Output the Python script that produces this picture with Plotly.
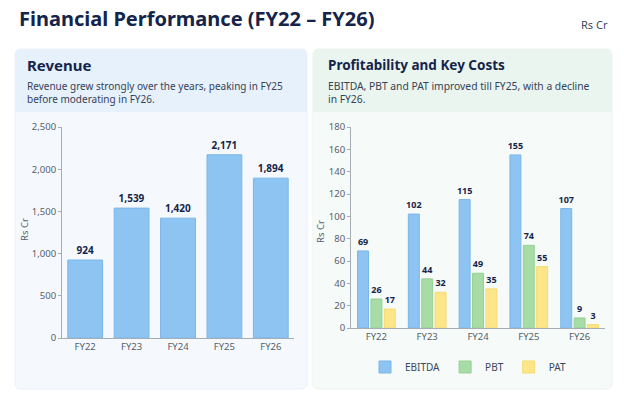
import plotly.graph_objects as go

years = ["FY22", "FY23", "FY24", "FY25", "FY26"]
revenue = [924, 1539, 1420, 2171, 1894]
ebitda = [69, 102, 115, 155, 107]
pbt = [26, 44, 49, 74, 9]
pat = [17, 32, 35, 55, 3]

W, H = 624, 416
def px(x): return x / W
def py(y): return 1 - y / H

FONT = "Noto Sans"
NAVY = "#15244a"
TICK = "#555e6b"

fig = go.Figure()

fig.add_trace(go.Bar(
    x=years, y=revenue, xaxis="x", yaxis="y", showlegend=False, width=0.75,
    marker=dict(color="#8ec4f1", line=dict(color="#7ab6ea", width=1)),
    texttemplate="%{y:,}", textposition="outside", cliponaxis=False, constraintext="none",
    textfont=dict(family=FONT, size=10, color=NAVY, weight="bold"),
    hoverinfo="skip",
))

for name, vals, col, edge in [("EBITDA", ebitda, "#8ec4f1", "#7ab6ea"),
                              ("PBT", pbt, "#a8dca6", "#96d194"),
                              ("PAT", pat, "#fde68a", "#f7da6e")]:
    fig.add_trace(go.Bar(
        x=years, y=vals, name=name, xaxis="x2", yaxis="y2",
        marker=dict(color=col, line=dict(color=edge, width=1)),
        texttemplate="%{y}", textposition="outside", cliponaxis=False, constraintext="none",
        textfont=dict(family=FONT, size=9, color=NAVY, weight="bold"),
        hoverinfo="skip",
    ))

def rrect(x0, y0, x1, y1, r, top_only=False):
    rx, ry = r / W, r / H
    X0, X1 = px(x0), px(x1)
    Y0, Y1 = py(y0), py(y1)
    if top_only:
        return (f"M {X0},{Y1} L {X0},{Y0-ry} Q {X0},{Y0} {X0+rx},{Y0} "
                f"L {X1-rx},{Y0} Q {X1},{Y0} {X1},{Y0-ry} L {X1},{Y1} Z")
    return (f"M {X0},{Y1+ry} L {X0},{Y0-ry} Q {X0},{Y0} {X0+rx},{Y0} "
            f"L {X1-rx},{Y0} Q {X1},{Y0} {X1},{Y0-ry} L {X1},{Y1+ry} "
            f"Q {X1},{Y1} {X1-rx},{Y1} L {X0+rx},{Y1} Q {X0},{Y1} {X0},{Y1+ry} Z")

shapes = [
    dict(type="path", xref="paper", yref="paper", path=rrect(15, 49, 307, 389, 6),
         fillcolor="#f5f9fd", line=dict(color="#eaf1f8", width=1), layer="below"),
    dict(type="path", xref="paper", yref="paper", path=rrect(15, 49, 307, 112, 6, top_only=True),
         fillcolor="#e7f1fb", line=dict(width=0), layer="below"),
    dict(type="path", xref="paper", yref="paper", path=rrect(313, 49, 612, 389, 6),
         fillcolor="#f6faf8", line=dict(color="#ebf3ee", width=1), layer="below"),
    dict(type="path", xref="paper", yref="paper", path=rrect(313, 49, 612, 112, 6, top_only=True),
         fillcolor="#e9f5ee", line=dict(width=0), layer="below"),
]

annotations = [
    dict(text="Financial Performance (FY22 – FY26)", x=px(17), y=py(19), xref="paper", yref="paper",
         xanchor="left", yanchor="middle", showarrow=False,
         font=dict(family=FONT, size=20, color=NAVY, weight="bold")),
    dict(text="Rs Cr", x=px(610), y=py(24), xref="paper", yref="paper",
         xanchor="right", yanchor="middle", showarrow=False,
         font=dict(family=FONT, size=11, color="#3d4a5c")),
    dict(text="Revenue", x=px(25), y=py(65), xref="paper", yref="paper",
         xanchor="left", yanchor="middle", showarrow=False,
         font=dict(family=FONT, size=15, color=NAVY, weight="bold")),
    dict(text="Revenue grew strongly over the years, peaking in FY25<br>before moderating in FY26.",
         x=px(25), y=py(92), xref="paper", yref="paper", align="left",
         xanchor="left", yanchor="middle", showarrow=False,
         font=dict(family=FONT, size=10, color="#34425a")),
    dict(text="Profitability and Key Costs", x=px(326), y=py(65), xref="paper", yref="paper",
         xanchor="left", yanchor="middle", showarrow=False,
         font=dict(family=FONT, size=13.5, color=NAVY, weight="bold")),
    dict(text="EBITDA, PBT and PAT improved till FY25, with a decline<br>in FY26.",
         x=px(326), y=py(92), xref="paper", yref="paper", align="left",
         xanchor="left", yanchor="middle", showarrow=False,
         font=dict(family=FONT, size=10.3, color="#34425a")),
    dict(text="Rs Cr", x=px(24), y=py(230), xref="paper", yref="paper", textangle=-90,
         xanchor="center", yanchor="middle", showarrow=False,
         font=dict(family=FONT, size=9.5, color=TICK)),
    dict(text="Rs Cr", x=px(320), y=py(232), xref="paper", yref="paper", textangle=-90,
         xanchor="center", yanchor="middle", showarrow=False,
         font=dict(family=FONT, size=9.5, color=TICK)),
]

axis_common = dict(showgrid=False, zeroline=False, showline=True, linecolor="#a7adb5", linewidth=1,
                   tickfont=dict(family=FONT, size=9.5, color=TICK), automargin=False)

fig.update_layout(
    width=W, height=H, margin=dict(l=0, r=0, t=0, b=0, pad=0, autoexpand=False),
    paper_bgcolor="white", plot_bgcolor="rgba(0,0,0,0)",
    barmode="group", bargap=0.21, bargroupgap=0.18,
    shapes=shapes, annotations=annotations,
    font=dict(family=FONT),
    xaxis=dict(domain=[px(62), px(294)], anchor="y", ticks="", **axis_common),
    yaxis=dict(domain=[py(338), py(127)], anchor="x", range=[0, 2500], dtick=500,
               tickformat=",", ticks="outside", ticklen=3, tickcolor="#a7adb5", **axis_common),
    xaxis2=dict(domain=[px(351), px(605)], anchor="y2", ticks="", **axis_common),
    yaxis2=dict(domain=[py(328), py(127)], anchor="x2", range=[0, 180], dtick=20,
                ticks="outside", ticklen=3, tickcolor="#a7adb5", **axis_common),
    legend=dict(orientation="h", x=px(468), y=py(367), xanchor="center", yanchor="middle",
                bgcolor="rgba(0,0,0,0)", font=dict(family=FONT, size=10, color="#3a475c"),
                itemwidth=30, traceorder="normal"),
)

fig.write_html("out.html", config={"displayModeBar": False},
               post_script="document.body.style.margin='0';")
